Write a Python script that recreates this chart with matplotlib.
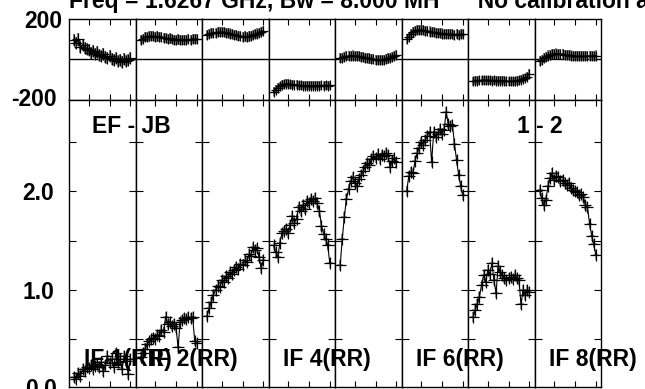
import matplotlib
matplotlib.use("Agg")
import matplotlib.pyplot as plt
import numpy as np

# Kanäle pro IF (Randkanäle weggelassen)
channels = list(range(3, 31))

# Amplitude je IF (Jy)
amp_if1 = [0.12, 0.10, 0.16, 0.13, 0.20, 0.18, 0.22, 0.21, 0.24, 0.20, 0.23, 0.25, 0.22, 0.27,
           0.18, 0.24, 0.33, 0.26, 0.30, 0.22, 0.36, 0.27, 0.30, 0.20, 0.33, 0.28, 0.15, 0.30]
amp_if2 = [0.32, 0.36, 0.40, 0.45, 0.48, 0.50, 0.52, 0.51, 0.55, 0.54, 0.60, 0.58, 0.73, 0.66,
           0.68, 0.64, 0.66, 0.62, 0.42, 0.68, 0.70, 0.72, 0.71, 0.73, 0.72, 0.73, 0.48, 0.46]
amp_if3 = [0.74, 0.82, 0.88, 0.95, 1.00, 1.04, 1.03, 1.10, 1.08, 1.14, 1.12, 1.18, 1.16, 1.20,
           1.23, 1.21, 1.26, 1.25, 1.30, 1.28, 1.36, 1.34, 1.43, 1.40, 1.42, 1.33, 1.22, 1.30]
amp_if4 = [1.45, 1.38, 1.33, 1.48, 1.58, 1.60, 1.62, 1.58, 1.66, 1.75, 1.68, 1.72, 1.84, 1.80,
           1.86, 1.82, 1.90, 1.88, 1.92, 1.90, 1.93, 1.88, 1.80, 1.65, 1.57, 1.52, 1.45, 1.27]
amp_if5 = [1.25, 1.52, 1.74, 1.92, 2.02, 2.10, 2.14, 2.08, 2.05, 2.12, 2.16, 2.20, 2.24, 2.28,
           2.26, 2.32, 2.35, 2.33, 2.37, 2.32, 2.36, 2.35, 2.38, 2.36, 2.24, 2.30, 2.33, 2.29]
amp_if6 = [2.00, 2.15, 2.19, 2.18, 2.30, 2.38, 2.44, 2.50, 2.47, 2.52, 2.56, 2.60, 2.29, 2.60,
           2.55, 2.58, 2.63, 2.58, 2.62, 2.80, 2.68, 2.66, 2.67, 2.48, 2.31, 2.16, 2.05, 1.96]
amp_if7 = [0.73, 0.80, 0.86, 0.93, 1.05, 1.15, 1.08, 1.20, 1.16, 1.27, 1.10, 0.97, 1.24, 1.18,
           1.15, 1.12, 1.10, 1.12, 1.13, 1.11, 1.15, 1.12, 1.10, 0.86, 1.00, 0.95, 1.00, 0.98]
amp_if8 = [2.01, 1.93, 1.86, 1.91, 2.05, 2.13, 2.18, 2.11, 2.15, 2.14, 2.10, 2.11, 2.08, 2.06,
           2.08, 2.03, 2.01, 2.00, 1.99, 1.96, 1.97, 1.94, 1.86, 1.84, 1.67, 1.55, 1.47, 1.35]

# Phase je IF (Grad)
pha_if1 = [95, 80, 100, 60, 70, 55, 50, 45, 30, 40, 25, 35, 20, 15,
           25, 10, 5, 15, 0, -5, 5, -10, -5, -15, 0, -10, -5, 5]
pha_if2 = [95, 100, 108, 110, 112, 115, 113, 110, 112, 108, 110, 106, 104, 100,
           102, 98, 96, 95, 97, 94, 95, 96, 94, 98, 96, 100, 98, 100]
pha_if3 = [120, 125, 128, 130, 128, 132, 134, 133, 132, 130, 128, 126, 124, 120,
           118, 115, 113, 110, 112, 110, 112, 115, 118, 122, 126, 130, 135, 140]
pha_if4 = [-160, -150, -140, -132, -125, -122, -120, -120, -122, -124, -125, -126, -128, -128,
           -130, -130, -130, -131, -130, -130, -131, -130, -130, -128, -130, -128, -129, -128]
pha_if5 = [5, 8, 12, 14, 16, 17, 18, 17, 16, 14, 12, 10, 8, 6,
           4, 2, 0, -2, -4, -5, -5, -3, 0, 4, 8, 12, 15, 20]
pha_if6 = [100, 110, 125, 132, 138, 142, 144, 143, 142, 140, 138, 136, 134, 132,
           130, 128, 127, 126, 125, 124, 123, 122, 122, 121, 122, 121, 122, 124]
pha_if7 = [-108, -106, -105, -104, -103, -104, -104, -103, -104, -105, -104, -105, -106, -106,
           -105, -106, -107, -108, -108, -107, -108, -106, -103, -100, -96, -92, -85, -70]
pha_if8 = [-10, -2, 5, 12, 18, 22, 25, 27, 28, 27, 26, 24, 22, 20,
           19, 18, 17, 16, 15, 15, 14, 14, 15, 15, 16, 16, 17, 18]

# Phasenfehler (Grad), IF 1 rauschiger
pha_err = [30, 25, 25, 22, 25, 25, 22, 25]

amps = [amp_if1, amp_if2, amp_if3, amp_if4, amp_if5, amp_if6, amp_if7, amp_if8]
phases = [pha_if1, pha_if2, pha_if3, pha_if4, pha_if5, pha_if6, pha_if7, pha_if8]

if_labels = {1: "IF 1(RR)", 2: "IF 2(RR)", 4: "IF 4(RR)", 6: "IF 6(RR)", 8: "IF 8(RR)"}
title = "Freq = 1.6267 GHz, Bw = 8.000 MH      No calibration applied"

plt.rcParams["font.family"] = ["Liberation Sans", "DejaVu Sans"]
plt.rcParams["font.weight"] = "bold"
FS = 16.5

W, H = 645, 389
x0, pw = 69, 66.5
y_top, y_mid, y_bot = 18.5, 100, 387


def fig_rect(left, top, width, height):
    return [left / W, 1 - (top + height) / H, width / W, height / H]


def style(ax):
    for s in ax.spines.values():
        s.set_linewidth(1.0)
        s.set_color("black")
    ax.set_xlim(0.5, 32.5)
    ax.set_xticks([10, 20, 30])
    ax.tick_params(axis="x", which="both", direction="in", top=True, bottom=True,
                   length=4, width=0.8, labelbottom=False)


fig = plt.figure(figsize=(W / 100, H / 100), dpi=100)

for i in range(8):
    left = x0 + i * pw

    # Phase oben
    axp = fig.add_axes(fig_rect(left, y_top, pw, y_mid - y_top))
    style(axp)
    axp.set_ylim(-200, 200)
    axp.set_yticks([])
    axp.axhline(0, color="black", lw=1.0)
    axp.errorbar(channels, phases[i], yerr=pha_err[i], fmt="none",
                 ecolor="#7a7a7a", elinewidth=1.3)
    ms = 9 if i == 0 else 6.5
    axp.plot(channels, phases[i], color="black", lw=0.9, marker="+", ms=ms, mew=0.9)

    # Amplitude unten
    axa = fig.add_axes(fig_rect(left, y_mid, pw, y_bot - y_mid))
    style(axa)
    axa.set_ylim(0.02, 2.92)
    axa.set_yticks([1.0, 2.0])
    axa.set_yticks([0.5, 1.5, 2.5], minor=True)
    axa.tick_params(axis="y", which="both", direction="in", left=True, right=True,
                    length=5, width=0.8, labelleft=(i == 0), labelsize=FS, pad=10.5)
    axa.yaxis.set_major_formatter(plt.FormatStrFormatter("%.1f"))
    axa.errorbar(channels, amps[i], xerr=1.4, yerr=0.05, fmt="none",
                 ecolor="#8c8c8c", elinewidth=1.2)
    axa.plot(channels, amps[i], color="black", lw=0.8, marker="+", ms=9, mew=0.9)

    if i + 1 in if_labels:
        fig.text((left + 14.5) / W, 1 - 366 / H, if_labels[i + 1], fontsize=FS,
                 fontweight="bold", va="baseline", ha="left")

# Achsenbeschriftungen links
fig.text(62 / W, 1 - 21 / H, "200", fontsize=FS, fontweight="bold", ha="right", va="center")
fig.text(57 / W, 1 - 100 / H, "-200", fontsize=FS, fontweight="bold", ha="right", va="center")
fig.text(57 / W, 1 - 389 / H, "0.0", fontsize=FS, fontweight="bold", ha="right", va="center")

fig.text(92 / W, 1 - 133 / H, "EF - JB", fontsize=FS, fontweight="bold", va="baseline")
fig.text(517 / W, 1 - 133 / H, "1 - 2", fontsize=FS, fontweight="bold", va="baseline")
fig.text(69 / W, 1 - 8 / H, title, fontsize=FS, fontweight="bold", va="baseline")

fig.savefig("out.png", dpi=100)
